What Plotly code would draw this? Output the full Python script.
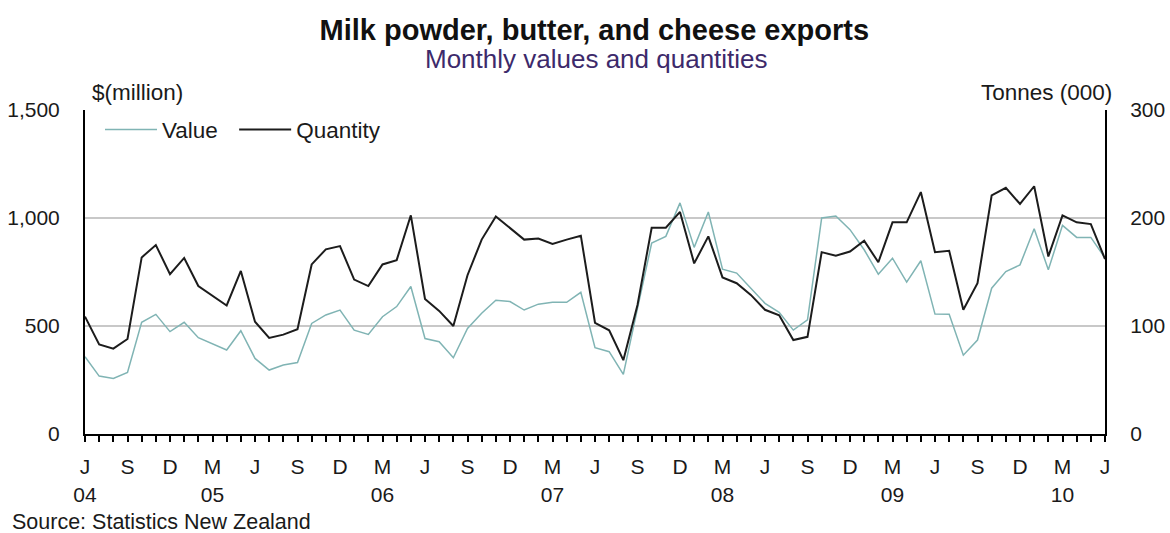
import plotly.graph_objects as go

months = ["Jun 04","Jul 04","Aug 04","Sep 04","Oct 04","Nov 04","Dec 04",
          "Jan 05","Feb 05","Mar 05","Apr 05","May 05","Jun 05","Jul 05","Aug 05","Sep 05","Oct 05","Nov 05","Dec 05",
          "Jan 06","Feb 06","Mar 06","Apr 06","May 06","Jun 06","Jul 06","Aug 06","Sep 06","Oct 06","Nov 06","Dec 06",
          "Jan 07","Feb 07","Mar 07","Apr 07","May 07","Jun 07","Jul 07","Aug 07","Sep 07","Oct 07","Nov 07","Dec 07",
          "Jan 08","Feb 08","Mar 08","Apr 08","May 08","Jun 08","Jul 08","Aug 08","Sep 08","Oct 08","Nov 08","Dec 08",
          "Jan 09","Feb 09","Mar 09","Apr 09","May 09","Jun 09","Jul 09","Aug 09","Sep 09","Oct 09","Nov 09","Dec 09",
          "Jan 10","Feb 10","Mar 10","Apr 10","May 10","Jun 10"]

value = [358, 268, 257, 285, 517, 554, 474,
         517, 446, 419, 389, 478, 350, 296, 319, 331, 512, 551, 574,
         481, 461, 543, 590, 683, 442, 427, 353, 489, 559, 619, 613,
         574, 601, 610, 610, 656, 400, 381, 276, 582, 884, 915, 1070,
         864, 1028, 763, 745, 675, 605, 563, 481, 528, 1000, 1009, 946,
         853, 740, 814, 703, 802, 555, 554, 365, 435, 675, 752, 783,
         950, 760, 966, 910, 910, 815]

quantity = [108.7, 83, 79, 88, 163.5, 175, 148,
            163, 137, 128, 119, 151, 104, 89, 92, 97, 157, 171, 174,
            143, 137, 157, 161, 202.5, 125, 114, 100, 147, 180, 201.5, 191,
            180, 181, 176, 180, 183.6, 103, 96, 68.4, 119.5, 191, 191, 205.6,
            158, 183, 145, 139.6, 128.8, 115, 110, 87, 90, 168.4, 165, 169,
            179, 159, 196, 196, 224, 168.4, 169.7, 115, 139.6, 221, 228, 213,
            229.4, 164.4, 202.5, 196, 194.4, 162]

# tick labels: month letter every quarter, year under March (and first tick)
letter = {"Jun": "J", "Sep": "S", "Dec": "D", "Mar": "M"}
ticktext = []
for i, m in enumerate(months):
    mon, yr = m.split()
    if mon in letter:
        if mon == "Mar" or i == 0:
            ticktext.append(letter[mon] + "<br>" + yr)
        else:
            ticktext.append(letter[mon] + "<br> ")
    else:
        ticktext.append("")

FONT = "Liberation Sans, Arial, sans-serif"
TXT = "#1a1a1a"

fig = go.Figure()
fig.add_trace(go.Scatter(x=months, y=value, name="Value\u2002", mode="lines",
                         line=dict(color="#80b4b4", width=1.5)))
fig.add_trace(go.Scatter(x=months, y=quantity, name="Quantity", mode="lines",
                         line=dict(color="#1c1c1c", width=2), yaxis="y2"))

fig.update_layout(
    width=1170, height=533,
    margin=dict(l=85, r=65, t=110, b=99, autoexpand=False),
    paper_bgcolor="white", plot_bgcolor="white",
    font=dict(family=FONT, size=21, color=TXT),
    showlegend=True,
    legend=dict(orientation="h", x=(100 - 85) / 1020, y=1.005, xanchor="left", yanchor="top",
                bgcolor="rgba(0,0,0,0)", font=dict(size=22.5, color=TXT),
                itemwidth=52, tracegroupgap=0),
    xaxis=dict(type="category", range=[0, len(months) - 1], automargin=False,
               tickmode="array", tickvals=months, ticktext=ticktext,
               ticks="outside", ticklen=6, tickcolor="#000", tickwidth=1.5,
               showline=True, linecolor="#000", linewidth=2,
               showgrid=False, zeroline=False,
               tickfont=dict(size=21, color=TXT), tickangle=0,
               ticklabelstandoff=7),
    yaxis=dict(range=[0, 1500], tickvals=[0, 500, 1000, 1500], automargin=False,
               ticktext=["0", "500", "1,000", "1,500"],
               showgrid=True, gridcolor="#c8c8c8", gridwidth=1.5,
               showline=True, linecolor="#000", linewidth=2,
               ticks="", zeroline=False, tickfont=dict(size=21, color=TXT),
               ticklabelstandoff=19),
    yaxis2=dict(range=[0, 300], tickvals=[0, 100, 200, 300], automargin=False,
                overlaying="y", side="right",
                showgrid=False, showline=True, linecolor="#000", linewidth=2,
                ticks="", zeroline=False, tickfont=dict(size=21, color=TXT),
                ticklabelstandoff=19),
    title=dict(text="<b>Milk powder, butter, and cheese exports</b>",
               x=0.508, xanchor="center", y=1 - 30 / 533, yanchor="middle",
               font=dict(size=29, color="#111", family=FONT)),
)

fig.add_annotation(text="Monthly values and quantities", xref="paper", yref="paper",
                   x=(596 - 85) / 1020, y=1 + (110 - 59) / 324, xanchor="center", yanchor="middle",
                   showarrow=False, font=dict(size=26, color="#3d2a6b"))
fig.add_annotation(text="$(million)", xref="paper", yref="paper",
                   x=(90 - 85) / 1020, y=1 + (110 - 92) / 324, xanchor="left", yanchor="middle",
                   showarrow=False, font=dict(size=22.5, color=TXT))
fig.add_annotation(text="Tonnes (000)", xref="paper", yref="paper",
                   x=(1114 - 85) / 1020, y=1 + (110 - 92) / 324, xanchor="right", yanchor="middle",
                   showarrow=False, font=dict(size=22.5, color=TXT))
fig.add_annotation(text="Source: Statistics New Zealand", xref="paper", yref="paper",
                   x=(10 - 85) / 1020, y=-(522 - 434) / 324, xanchor="left", yanchor="middle",
                   showarrow=False, font=dict(size=21.5, color=TXT))

fig.write_html("out.html", config={"displayModeBar": False},
               post_script="document.body.style.margin='0';document.body.style.padding='0';")
